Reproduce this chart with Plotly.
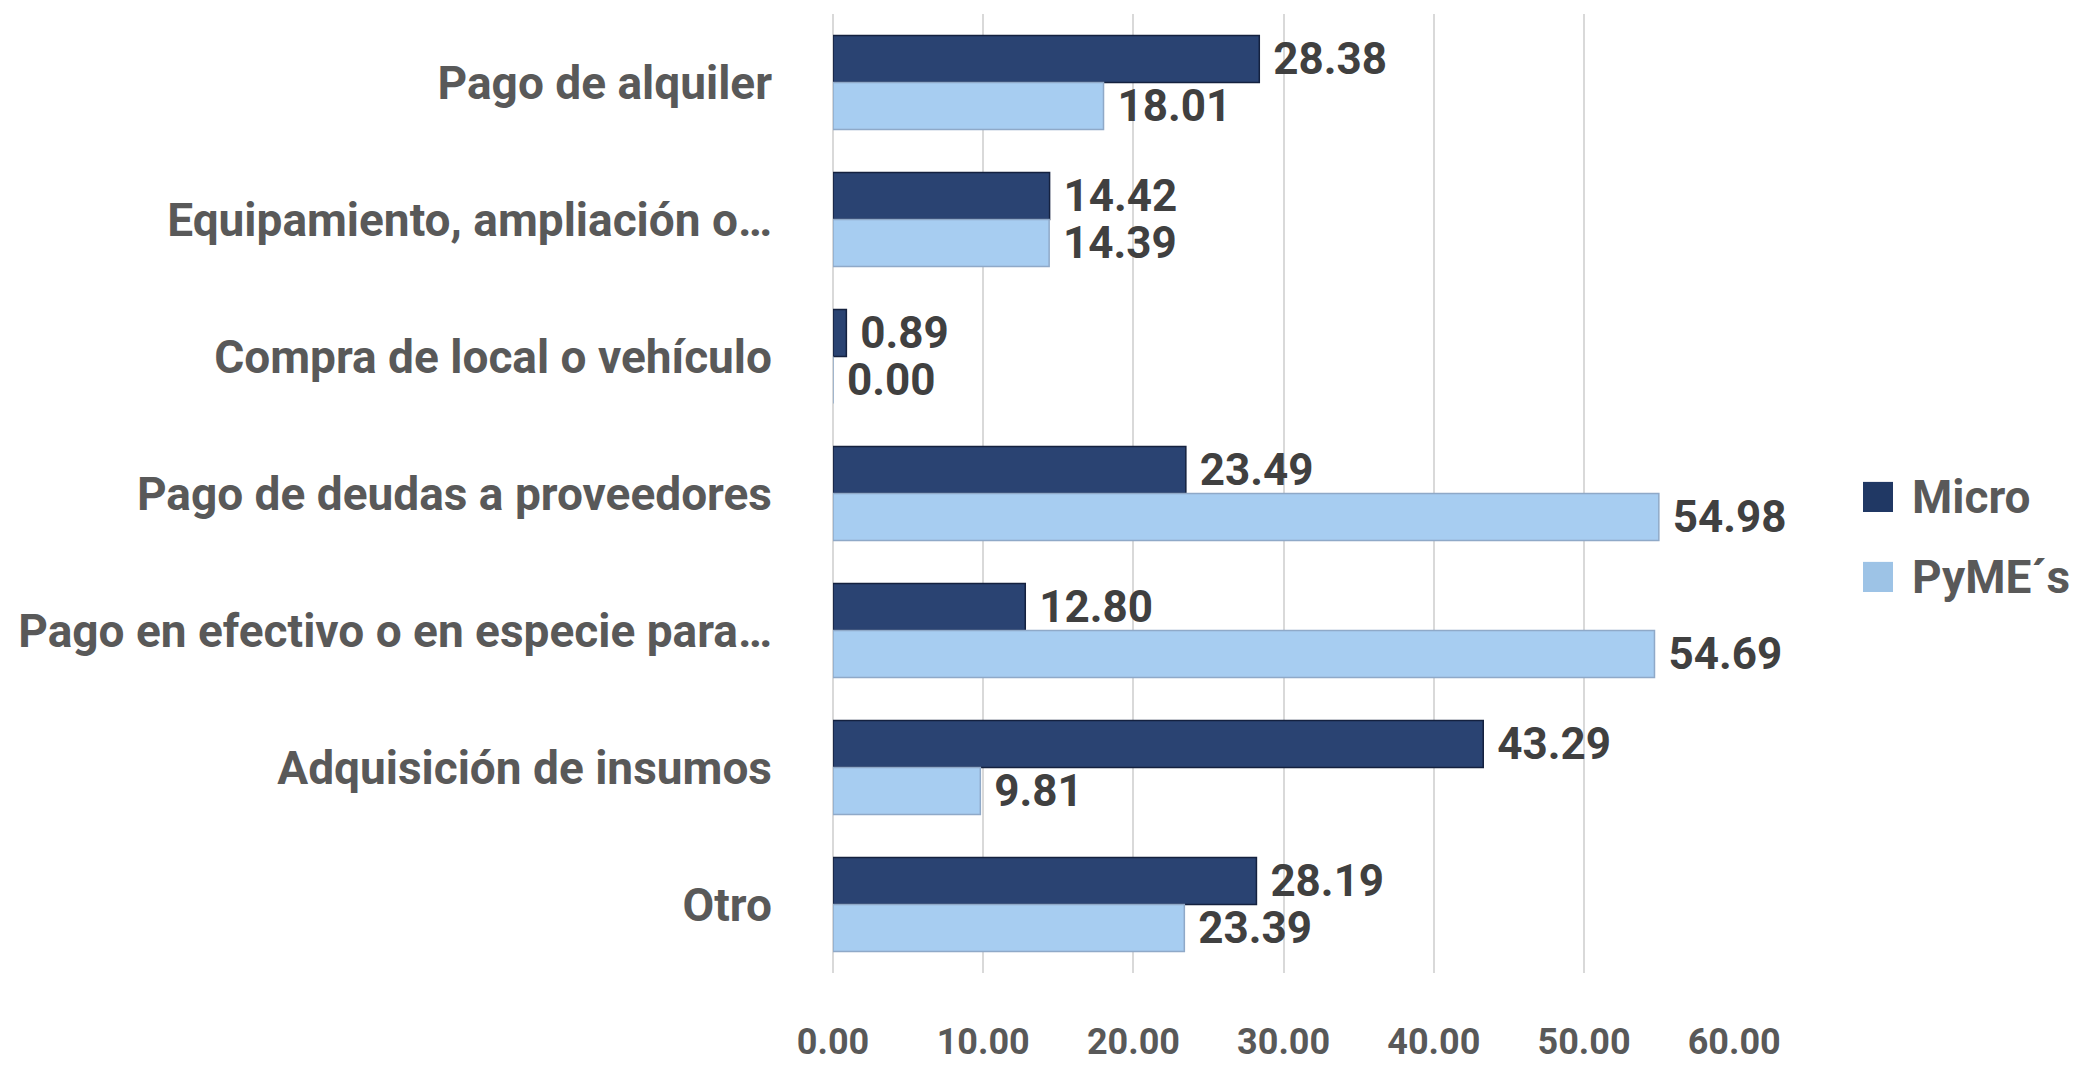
import plotly.graph_objects as go

# Data
categorias = [
    "Pago de alquiler",
    "Equipamiento, ampliación o…",
    "Compra de local o vehículo",
    "Pago de deudas a proveedores",
    "Pago en efectivo o en especie para…",
    "Adquisición de insumos",
    "Otro",
]
micro = [28.38, 14.42, 0.89, 23.49, 12.80, 43.29, 28.19]
pymes = [18.01, 14.39, 0.00, 54.98, 54.69, 9.81, 23.39]
ticks_x = [0, 10, 20, 30, 40, 50, 60]
series = ["Micro", "PyME´s"]
colores = ["#203864", "#9DC3E6"]

fuente = "Roboto, Arial"
etiqueta = dict(family=fuente, size=44, color="#404040", weight="bold")

fig = go.Figure()
fig.add_trace(go.Bar(
    y=categorias, x=micro, name=series[0], orientation="h",
    marker=dict(color="#2A4372", line=dict(color="#14213F", width=1.5)),
    texttemplate=" %{x:.2f}", textposition="outside", cliponaxis=False,
    constraintext="none", outsidetextfont=etiqueta, showlegend=False,
))
fig.add_trace(go.Bar(
    y=categorias, x=pymes, name=series[1], orientation="h",
    marker=dict(color="#A7CDF1", line=dict(color="#8FA9C8", width=1.5)),
    texttemplate=" %{x:.2f}", textposition="outside", cliponaxis=False,
    constraintext="none", outsidetextfont=etiqueta, showlegend=False,
))

# legend drawn by hand so the squares and text can be large
for i, (nombre, color) in enumerate(zip(series, colores)):
    yc = 0.4964 - i * 0.0834
    fig.add_shape(type="rect", xref="paper", yref="paper",
                  x0=1.1419, x1=1.1752, y0=yc - 0.0157, y1=yc + 0.0157,
                  fillcolor=color, line=dict(width=0))
    fig.add_annotation(xref="paper", yref="paper", x=1.194, y=yc,
                       xanchor="left", yanchor="middle", showarrow=False,
                       text=nombre,
                       font=dict(family=fuente, size=46, color="#595959", weight="bold"))

fig.update_layout(
    width=2095, height=1068,
    margin=dict(l=825, r=368, t=6, b=103, autoexpand=False),
    paper_bgcolor="white", plot_bgcolor="white",
    barmode="group", bargap=0.314, bargroupgap=0,
    font=dict(family=fuente, color="#595959"),
    showlegend=False,
)
fig.update_xaxes(
    range=[0, 60.05], tickvals=ticks_x, tickformat=".2f",
    showgrid=True, gridcolor="#D9D9D9", gridwidth=2,
    zeroline=True, zerolinecolor="#D9D9D9", zerolinewidth=2,
    showline=False, ticks="", ticklabelstandoff=44,
    tickfont=dict(family=fuente, size=36, color="#595959", weight="bold"),
    automargin=False,
)
fig.update_yaxes(
    autorange="reversed", showgrid=False, showline=False, ticks="",
    ticklabelstandoff=60,
    tickfont=dict(family=fuente, size=46, color="#595959", weight="bold"),
    automargin=False,
)

fig.write_html("out.html")
